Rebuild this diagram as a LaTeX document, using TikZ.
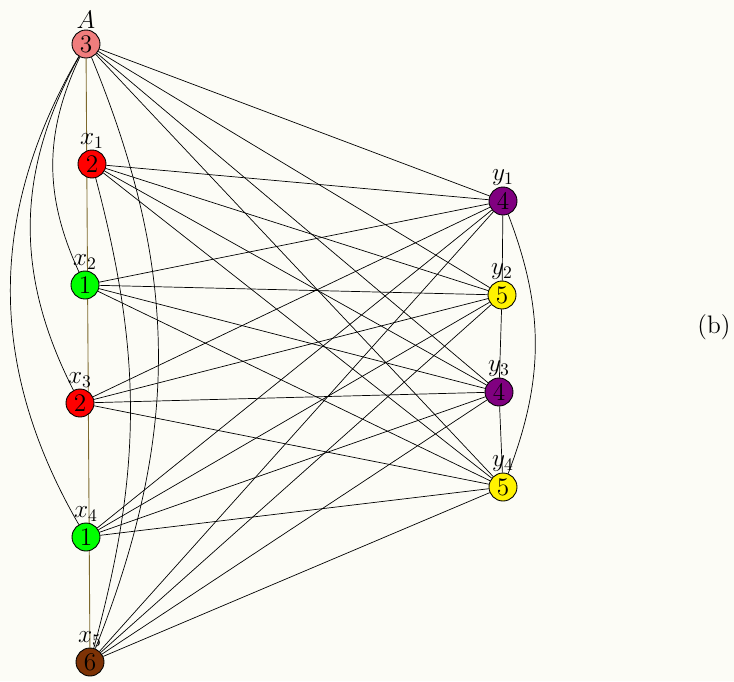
\documentclass[tikz,border=0pt]{standalone}
\usetikzlibrary{positioning,backgrounds}
\definecolor{paper}{RGB}{252,252,246}
\definecolor{salmon}{RGB}{240,125,125}
\definecolor{chestnut}{RGB}{125,50,5}
\definecolor{violet}{RGB}{128,0,128}
\definecolor{pathline}{RGB}{125,105,45}
\tikzset{vtx/.style={circle,draw,line width=0.5pt,inner sep=0pt,minimum size=0.56cm,font=\Large},
  every label/.style={font=\Large,inner sep=0.5pt}}
\begin{document}
\begin{tikzpicture}[x=0.02cm,y=-0.02cm,line width=0.6pt]
\useasboundingbox (0,0) rectangle (734,681);
% left column
\node[vtx,fill=salmon,label=above:$A$] (A) at (86,44) {$3$};
\node[vtx,fill=red,label=above:$x_1$] (x1) at (92,164) {$2$};
\node[vtx,fill=green,label=above:$x_2$] (x2) at (85,285) {$1$};
\node[vtx,fill=red,label=above:$x_3$] (x3) at (80,403) {$2$};
\node[vtx,fill=green,label=above:$x_4$] (x4) at (86,537) {$1$};
\node[vtx,fill=chestnut,label=above:$x_5$] (x5) at (90,662) {$6$};
% right column
\node[vtx,fill=violet,label=above:$y_1$] (y1) at (503,201) {$4$};
\node[vtx,fill=yellow,label=above:$y_2$] (y2) at (502,295) {$5$};
\node[vtx,fill=violet,label=above:$y_3$] (y3) at (499,392) {$4$};
\node[vtx,fill=yellow,label=above:$y_4$] (y4) at (503,487) {$5$};
\node[font=\Large] (tag) at (714,327) {(b)};
% edges
\begin{pgfonlayer}{background}
\fill[paper] (0,0) rectangle (734,681);
\draw[pathline,line width=0.5pt] (A)--(x5);
\end{pgfonlayer}
\draw (y1)--(y2)--(y3)--(y4);
\draw (y1) to[bend left=21] (y4);
\draw (A) to[bend right=25] (x2);
\draw (A) to[bend right=28] (x3);
\draw (A) to[bend right=30] (x4);
\draw (A) to[bend left=22] (x5);
\draw (x1) to[bend left=15] (x5);
\foreach \u in {A,x1,x2,x3,x4,x5}
  \foreach \v in {y1,y2,y3,y4}
    \draw (\u)--(\v);
\end{tikzpicture}
\end{document}
